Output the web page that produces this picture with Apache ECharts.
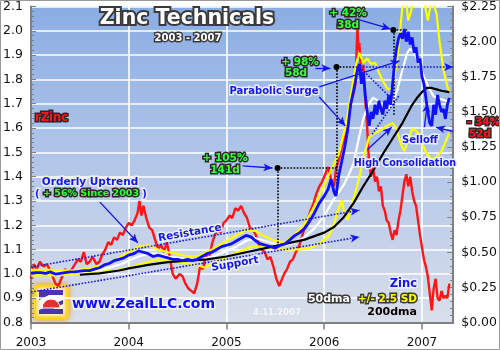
<!DOCTYPE html>
<html><head><meta charset="utf-8">
<script src="https://cdn.jsdelivr.net/npm/echarts@6/dist/echarts.min.js"></script>
<style>html,body{margin:0;padding:0;background:#fff}#c{width:500px;height:350px}</style>
</head><body><div id="c"></div>
<script>
// ---------- DATA ----------
const yearTicks = [2003, 2004, 2005, 2006, 2007];

// Zinc price, $/lb (right axis)
const zinc = [
[2003.00,0.350],[2003.05,0.355],[2003.10,0.355],[2003.15,0.350],[2003.20,0.360],[2003.25,0.345],
[2003.30,0.350],[2003.35,0.355],[2003.40,0.360],[2003.45,0.360],[2003.50,0.365],[2003.55,0.370],
[2003.60,0.370],[2003.65,0.380],[2003.70,0.390],[2003.75,0.410],[2003.80,0.420],[2003.85,0.440],
[2003.90,0.450],[2003.95,0.460],[2004.00,0.480],[2004.05,0.490],[2004.10,0.510],[2004.15,0.500],
[2004.20,0.490],[2004.25,0.470],[2004.30,0.480],[2004.35,0.470],[2004.40,0.460],[2004.45,0.450],
[2004.50,0.450],[2004.55,0.440],[2004.60,0.450],[2004.65,0.440],[2004.70,0.450],[2004.75,0.470],
[2004.80,0.490],[2004.85,0.500],[2004.90,0.520],[2004.95,0.540],[2005.00,0.550],[2005.05,0.560],
[2005.10,0.580],[2005.15,0.600],[2005.20,0.620],[2005.25,0.610],[2005.30,0.580],[2005.35,0.560],
[2005.40,0.550],[2005.45,0.540],[2005.50,0.530],[2005.55,0.550],[2005.60,0.560],[2005.65,0.590],
[2005.70,0.620],[2005.75,0.640],[2005.80,0.670],[2005.85,0.720],[2005.90,0.780],[2005.95,0.850],
[2006.00,0.900],[2006.04,0.950],[2006.07,1.020],[2006.10,0.930],[2006.12,0.900],[2006.15,1.050],
[2006.18,1.150],[2006.21,1.250],[2006.24,1.370],[2006.27,1.550],[2006.30,1.650],[2006.32,1.720],
[2006.34,1.800],[2006.36,1.840],[2006.38,1.700],[2006.40,1.780],[2006.42,1.620],[2006.44,1.500],
[2006.46,1.400],[2006.48,1.500],[2006.50,1.450],[2006.52,1.550],[2006.54,1.480],[2006.56,1.580],
[2006.58,1.520],[2006.60,1.480],[2006.62,1.580],[2006.64,1.520],[2006.66,1.620],[2006.68,1.550],
[2006.70,1.700],[2006.72,1.850],[2006.74,1.950],[2006.76,2.020],[2006.78,2.060],[2006.80,2.020],
[2006.82,2.090],[2006.84,2.000],[2006.86,2.070],[2006.88,1.980],[2006.90,2.030],[2006.92,1.920],
[2006.94,1.960],[2006.96,1.850],[2006.98,1.880],[2007.00,1.750],[2007.02,1.700],[2007.04,1.600],
[2007.06,1.500],[2007.08,1.420],[2007.10,1.400],[2007.12,1.550],[2007.14,1.480],[2007.16,1.620],
[2007.18,1.550],[2007.20,1.500],[2007.22,1.520],[2007.24,1.450],[2007.26,1.550],[2007.28,1.600]
];

// rZinc = zinc / 200dma (left axis)
const rZinc = [
[2003.00,0.98],[2003.03,1.04],[2003.06,1.02],[2003.09,1.05],[2003.13,1.03],[2003.16,1.04],
[2003.19,1.02],[2003.22,0.99],[2003.25,0.96],[2003.28,0.95],[2003.31,0.98],[2003.35,1.02],
[2003.38,1.00],[2003.42,1.02],[2003.45,1.04],[2003.48,1.06],[2003.51,1.05],[2003.54,1.09],
[2003.57,1.04],[2003.60,1.05],[2003.63,1.07],[2003.67,1.04],[2003.70,1.05],[2003.73,1.08],
[2003.76,1.10],[2003.79,1.13],[2003.82,1.12],[2003.85,1.15],[2003.88,1.14],[2003.91,1.17],
[2003.94,1.16],[2003.97,1.19],[2004.00,1.21],[2004.03,1.20],[2004.06,1.22],[2004.09,1.25],
[2004.11,1.30],[2004.13,1.24],[2004.15,1.28],[2004.18,1.23],[2004.21,1.19],[2004.24,1.18],
[2004.27,1.14],[2004.30,1.10],[2004.33,1.12],[2004.36,1.09],[2004.39,1.13],[2004.42,1.07],
[2004.45,1.00],[2004.48,0.98],[2004.52,1.00],[2004.55,0.99],[2004.58,0.96],[2004.61,0.94],
[2004.64,0.93],[2004.67,0.92],[2004.70,0.96],[2004.73,1.03],[2004.76,1.02],[2004.79,1.08],
[2004.82,1.06],[2004.85,1.12],[2004.88,1.16],[2004.91,1.18],[2004.94,1.17],[2004.97,1.21],
[2005.00,1.22],[2005.03,1.24],[2005.06,1.23],[2005.09,1.27],[2005.12,1.26],[2005.15,1.28],
[2005.18,1.25],[2005.21,1.23],[2005.24,1.19],[2005.27,1.18],[2005.30,1.16],[2005.33,1.12],
[2005.36,1.10],[2005.39,1.09],[2005.42,1.06],[2005.45,1.07],[2005.48,1.03],[2005.51,0.98],
[2005.54,0.95],[2005.56,0.97],[2005.59,1.00],[2005.62,1.02],[2005.65,1.05],[2005.68,1.06],
[2005.71,1.09],[2005.74,1.11],[2005.77,1.15],[2005.80,1.19],[2005.83,1.22],[2005.86,1.26],
[2005.89,1.29],[2005.92,1.33],[2005.95,1.36],[2005.98,1.38],[2006.01,1.41],[2006.04,1.44],
[2006.07,1.39],[2006.10,1.36],[2006.12,1.43],[2006.15,1.47],[2006.18,1.52],[2006.21,1.56],
[2006.24,1.60],[2006.27,1.70],[2006.30,1.74],[2006.32,1.78],[2006.34,2.02],[2006.35,1.92],
[2006.36,1.95],[2006.38,1.80],[2006.40,1.86],[2006.42,1.72],[2006.44,1.60],[2006.46,1.45],
[2006.48,1.40],[2006.50,1.44],[2006.52,1.38],[2006.54,1.40],[2006.56,1.34],[2006.58,1.36],
[2006.60,1.28],[2006.62,1.26],[2006.64,1.22],[2006.66,1.21],[2006.68,1.17],[2006.70,1.14],
[2006.72,1.18],[2006.74,1.16],[2006.76,1.22],[2006.78,1.26],[2006.80,1.32],[2006.82,1.38],
[2006.84,1.41],[2006.86,1.36],[2006.88,1.40],[2006.90,1.34],[2006.92,1.30],[2006.94,1.28],
[2006.96,1.22],[2006.98,1.16],[2007.00,1.11],[2007.02,1.06],[2007.04,1.03],[2007.06,0.99],
[2007.08,0.92],[2007.10,0.85],[2007.12,0.94],[2007.14,0.98],[2007.16,0.90],[2007.18,0.89],
[2007.20,0.93],[2007.22,0.90],[2007.24,0.91],[2007.26,0.90],[2007.28,0.96]
];

// 50-day moving average ($)
const dma50 = [
[2003.00,0.355],[2003.20,0.355],[2003.40,0.355],[2003.60,0.365],[2003.75,0.380],[2003.90,0.410],
[2004.00,0.440],[2004.10,0.470],[2004.20,0.490],[2004.30,0.490],[2004.40,0.470],[2004.50,0.460],
[2004.60,0.450],[2004.70,0.445],[2004.80,0.460],[2004.90,0.480],[2005.00,0.510],[2005.10,0.540],
[2005.20,0.580],[2005.30,0.600],[2005.40,0.580],[2005.50,0.560],[2005.60,0.550],[2005.70,0.570],
[2005.80,0.610],[2005.90,0.670],[2006.00,0.760],[2006.10,0.880],[2006.20,0.980],[2006.25,1.050],
[2006.30,1.130],[2006.35,1.300],[2006.40,1.450],[2006.45,1.550],[2006.50,1.600],[2006.55,1.580],
[2006.60,1.550],[2006.65,1.520],[2006.70,1.560],[2006.75,1.660],[2006.80,1.800],[2006.85,1.920],
[2006.88,1.950],[2006.92,1.920],[2006.97,1.850],[2007.02,1.750],[2007.07,1.670],[2007.12,1.610],
[2007.20,1.590],[2007.28,1.570]
];

// 50dma +2.5 SD band ($)
const bandUpper = [
[2003.00,0.375],[2003.20,0.375],[2003.40,0.370],[2003.55,0.380],[2003.70,0.400],[2003.80,0.420],
[2003.90,0.460],[2004.00,0.500],[2004.10,0.540],[2004.20,0.550],[2004.30,0.520],[2004.40,0.500],
[2004.50,0.490],[2004.60,0.470],[2004.70,0.470],[2004.80,0.500],[2004.90,0.540],[2005.00,0.580],
[2005.10,0.620],[2005.20,0.660],[2005.30,0.650],[2005.40,0.610],[2005.50,0.580],[2005.60,0.570],
[2005.70,0.630],[2005.80,0.700],[2005.90,0.830],[2006.00,0.980],[2006.08,1.100],[2006.15,1.200],
[2006.22,1.400],[2006.28,1.650],[2006.33,1.850],[2006.36,1.920],[2006.40,1.850],[2006.44,1.880],
[2006.48,1.840],[2006.52,1.850],[2006.56,1.780],[2006.60,1.720],[2006.65,1.660],[2006.70,1.670],
[2006.73,1.800],[2006.76,1.950],[2006.80,2.250],[2006.83,2.350],[2006.86,2.150],[2006.89,2.220],
[2006.92,2.350],[2006.97,2.400],[2007.02,2.300],[2007.06,2.150],[2007.10,2.300],[2007.15,2.200],
[2007.18,2.000],[2007.22,1.800],[2007.26,1.680],[2007.28,1.640]
];

// 50dma -2.5 SD band ($)
const bandLower = [
[2003.00,0.335],[2003.20,0.335],[2003.40,0.340],[2003.55,0.350],[2003.70,0.360],[2003.85,0.370],
[2004.00,0.390],[2004.10,0.410],[2004.20,0.430],[2004.30,0.450],[2004.40,0.440],[2004.50,0.430],
[2004.60,0.420],[2004.70,0.410],[2004.78,0.390],[2004.85,0.420],[2004.95,0.450],[2005.05,0.480],
[2005.15,0.510],[2005.25,0.540],[2005.35,0.540],[2005.45,0.530],[2005.55,0.520],[2005.65,0.520],
[2005.75,0.520],[2005.85,0.530],[2005.95,0.560],[2006.05,0.620],[2006.10,0.700],[2006.14,0.800],
[2006.18,0.870],[2006.21,0.760],[2006.24,0.730],[2006.27,0.800],[2006.30,0.880],[2006.34,0.980],
[2006.38,1.100],[2006.42,1.220],[2006.46,1.320],[2006.52,1.350],[2006.58,1.370],[2006.64,1.400],
[2006.70,1.420],[2006.74,1.380],[2006.78,1.280],[2006.82,1.220],[2006.86,1.300],[2006.90,1.380],
[2006.95,1.360],[2007.00,1.280],[2007.05,1.200],[2007.10,1.160],[2007.15,1.180],[2007.20,1.220],
[2007.25,1.300],[2007.28,1.350]
];

// 200-day moving average ($)
const dma200 = [
[2003.50,0.340],[2003.70,0.350],[2003.90,0.370],[2004.00,0.385],[2004.20,0.410],[2004.40,0.430],
[2004.60,0.440],[2004.80,0.450],[2005.00,0.470],[2005.20,0.500],[2005.40,0.530],[2005.60,0.560],
[2005.80,0.590],[2006.00,0.640],[2006.10,0.680],[2006.20,0.750],[2006.30,0.850],[2006.40,0.970],
[2006.50,1.080],[2006.60,1.200],[2006.70,1.310],[2006.80,1.420],[2006.90,1.550],[2006.95,1.600],
[2007.00,1.640],[2007.05,1.670],[2007.10,1.670],[2007.15,1.660],[2007.20,1.650],[2007.28,1.640]
];

// ---------- ANNOTATIONS (data coordinates: year, $) ----------
const dotted = {type:'dotted', color:'#1515ee', width:1.6};
const blackDot = {type:'dotted', color:'#000', width:1.6};
const arrowStyle = {type:'solid', color:'#1515ee', width:1.3};
function seg(a, b, style, arrow) {
  return [{coord:a, symbol:'none', lineStyle:style},
          {coord:b, symbol: arrow ? 'arrow' : 'none', symbolSize: arrow ? [6,9] : 0, lineStyle:style}];
}
const annoLines = [
  seg([2003.0,0.395],[2006.36,0.80], dotted, true),     // resistance
  seg([2003.0,0.217],[2006.36,0.609], dotted, true),    // support
  seg([2006.33,1.82],[2007.32,1.82], dotted, true),     // breakout level
  seg([2006.36,1.82],[2006.68,1.60], dotted, false),
  seg([2006.49,1.34],[2006.77,1.62], dotted, false),
  seg([2005.523,1.10],[2005.523,0.536], blackDot, false),
  seg([2005.523,1.10],[2006.13,1.10], blackDot, false),
  seg([2006.126,1.82],[2006.126,0.92], blackDot, false),
  seg([2006.126,1.82],[2006.33,1.82], blackDot, false),
  seg([2006.708,2.083],[2006.708,1.47], blackDot, false),
  seg([2006.708,2.083],[2006.85,2.083], blackDot, false),
  seg([2005.165,1.115],[2005.47,1.10], arrowStyle, true),
  seg([2005.91,1.81],[2006.064,1.81], arrowStyle, true),
  seg([2006.36,2.155],[2006.677,2.09], arrowStyle, true),
  seg([2003.705,0.857],[2004.093,0.568], arrowStyle, true),
  seg([2005.95,1.677],[2006.77,1.862], arrowStyle, true),
  seg([2005.95,1.606],[2006.217,1.40], arrowStyle, true),
  seg([2006.44,1.23],[2006.69,1.39], arrowStyle, true),
  seg([2007.025,1.39],[2007.055,1.56], arrowStyle, true),
  seg([2007.32,1.36],[2007.145,1.39], arrowStyle, true)
];
const annoDots = [[2005.523,1.10],[2006.126,1.82],[2006.708,2.083]];

// ---------- CHART ----------
const chart = echarts.init(document.getElementById('c'), null, {renderer:'canvas'});
const F = '"DejaVu Sans", Verdana, sans-serif';
function txt(x, y, text, font, fill, stroke, lw, align, extra) {
  return Object.assign({type:'text', x:x, y:y, z:100, silent:true,
    style:{text:text, font:font, fill:fill, stroke:stroke, lineWidth:lw,
      textAlign:align||'center', textVerticalAlign:'middle'}}, extra||{});
}
const blueTxt = (x,y,t,size,extra)=>txt(x,y,t,'bold '+size+'px '+F,'#1515ee','rgba(236,240,248,0.95)',3,'center',extra);
const greenTxt = (x,y,t)=>txt(x,y,t,'bold 10.5px '+F,'#33ff33','#2a2a2a',3,'center');

const option = {
  animation:false,
  backgroundColor:'#ffffff',
  grid:{left:31, right:46, top:6.5, bottom:27.5, show:true, borderWidth:0,
    backgroundColor:{type:'linear',x:0,y:0,x2:0,y2:1,
      colorStops:[{offset:0,color:'#8aade3'},{offset:0.5,color:'#b3c6e9'},{offset:1,color:'#d9dfea'}]}},
  xAxis:{type:'value', min:2003, max:2007.32, interval:0.25,
    axisLine:{show:true, onZero:false, lineStyle:{color:'#808080', width:2}},
    axisTick:{show:true, length:7, customValues:yearTicks, lineStyle:{color:'#808080', width:1.5}},
    axisLabel:{customValues:yearTicks, margin:14, fontSize:12, fontFamily:F, color:'#111',
      formatter:v=>String(Math.round(v))},
    splitLine:{show:true, lineStyle:{color:'#ffffff', width:1.6}}},
  yAxis:[
    {type:'value', min:0.8, max:2.1, interval:0.1, position:'left',
      axisLine:{show:true, lineStyle:{color:'#808080', width:2}},
      axisTick:{show:true, inside:true, length:5, lineStyle:{color:'#808080'}},
      minorTick:{show:true, splitNumber:5, length:3, lineStyle:{color:'#808080'}},
      axisLabel:{margin:8, fontSize:12.5, fontFamily:F, color:'#111', formatter:v=>v.toFixed(1)},
      splitLine:{show:true, lineStyle:{color:'#ffffff', width:1.6}}},
    {type:'value', min:0, max:2.25, interval:0.25, position:'right',
      axisLine:{show:true, lineStyle:{color:'#808080', width:2}},
      axisTick:{show:true, inside:true, length:6, lineStyle:{color:'#808080'}},
      minorTick:{show:true, splitNumber:5, length:3, lineStyle:{color:'#808080'}},
      axisLabel:{margin:8, fontSize:12.5, fontFamily:F, color:'#111', formatter:v=>'$'+v.toFixed(2)},
      splitLine:{show:false}}
  ],
  series:[
    {name:'rZinc', type:'line', yAxisIndex:0, data:rZinc, showSymbol:false, symbol:'none',
      lineStyle:{color:'#ff1515', width:2.4}, z:2},
    {name:'upper', type:'line', yAxisIndex:1, data:bandUpper, showSymbol:false, symbol:'none',
      lineStyle:{color:'#ffff00', width:2.2}, z:3},
    {name:'lower', type:'line', yAxisIndex:1, data:bandLower, showSymbol:false, symbol:'none',
      lineStyle:{color:'#ffff00', width:2.2}, z:3},
    {name:'50dma', type:'line', yAxisIndex:1, data:dma50, showSymbol:false, symbol:'none',
      lineStyle:{color:'#ffffff', width:2.2}, z:4},
    {name:'200dma', type:'line', yAxisIndex:1, data:dma200, showSymbol:false, symbol:'none',
      lineStyle:{color:'#000000', width:2.2}, z:4},
    {name:'Zinc', type:'line', yAxisIndex:1, data:zinc, showSymbol:false, symbol:'none',
      lineStyle:{color:'#1010ff', width:2.8}, z:5,
      markLine:{silent:true, animation:false, label:{show:false}, symbol:['none','none'],
        data:annoLines},
      markPoint:{silent:true, animation:false, symbol:'circle', symbolSize:6, label:{show:false},
        itemStyle:{color:'#000'}, data:annoDots.map(c=>({coord:c}))}}
  ],
  graphic:[
    {type:'rect', z:200, silent:true, shape:{x:0.5,y:0.5,width:499,height:349},
      style:{fill:null, stroke:'#9a9a9a', lineWidth:1}},
    {type:'text', x:187, y:19, z:100, silent:true,
      style:{text:'Zinc Technicals', font:'bold 20.5px '+F, fill:'#fff', stroke:'#3a3a3a', lineWidth:4,
        textAlign:'center', textVerticalAlign:'middle', shadowColor:'rgba(0,0,0,0.5)', shadowBlur:3, shadowOffsetX:1, shadowOffsetY:1}},
    txt(188,38,'2003 - 2007','bold 10px '+F,'#ffffff','#3a3a3a',3,'center'),
    txt(35,118,'rZinc','bold 11.5px '+F,'#ff1515','#2a2a2a',3,'left'),
    blueTxt(90,182,'Orderly Uptrend',10.5),
    {type:'text', x:91, y:194, z:100, silent:true, style:{
      text:'{b|(} {g|+ 56% Since 2003} {b|)}', textAlign:'center', textVerticalAlign:'middle',
      rich:{b:{font:'bold 10px '+F, fill:'#1515ee', stroke:'rgba(236,240,248,0.95)', lineWidth:3},
            g:{font:'bold 9.5px '+F, fill:'#33ff33', stroke:'#2a2a2a', lineWidth:3}}}},
    blueTxt(190,233,'Resistance',10.5,{rotation:0.17}),
    blueTxt(235,264,'Support',10.5,{rotation:0.17}),
    blueTxt(274,91,'Parabolic Surge',10),
    blueTxt(405,163,'High Consolidation',9.6),
    blueTxt(420,140,'Selloff',10),
    greenTxt(348,13,'+ 42%'), greenTxt(348,25,'38d'),
    greenTxt(300,62,'+ 98%'), greenTxt(296,73,'58d'),
    greenTxt(225,158,'+ 105%'), greenTxt(225,170,'141d'),
    txt(467,122,'- 34%','bold 10.5px '+F,'#ff1515','#2a2a2a',3,'left'),
    txt(469,134,'52d','bold 10.5px '+F,'#ff1515','#2a2a2a',3,'left'),
    txt(417,284,'Zinc','bold 11.5px '+F,'#1515ee','rgba(236,240,248,0.95)',3,'right'),
    txt(350,299,'50dma','bold 11px '+F,'#ffffff','#3a3a3a',3,'right'),
    txt(417,299,'+/- 2.5 SD','bold 10.5px '+F,'#ffff00','#3a3a3a',3,'right'),
    txt(417,312,'200dma','bold 11px '+F,'#000000','#d8dce6',3,'right'),
    txt(253,313,'4.11.2007','bold 8.5px '+F,'rgba(255,255,255,0.7)',null,0,'left'),
    txt(72,304,'www.ZealLLC.com','bold 14px '+F,'#1010ee','rgba(240,243,250,0.95)',3,'left'),
    {type:'group', x:35, y:286, z:100, silent:true, children:[
      {type:'rect', shape:{x:0,y:0,width:32,height:32,r:3},
        style:{fill:'#ffffff', stroke:'#f8d820', lineWidth:3, shadowColor:'#ff9a00', shadowBlur:6}},
      {type:'polygon', shape:{points:[[4,4],[28,4],[28,9],[14,9],[4,14]]}, style:{fill:'#4a35b0'}},
      {type:'polygon', shape:{points:[[4,28],[28,28],[28,23],[18,23],[28,18],[28,14],[4,24]]}, style:{fill:'#4a35b0'}},
      {type:'sector', shape:{cx:16,cy:22,r0:0,r:9,startAngle:Math.PI,endAngle:2*Math.PI}, style:{fill:'#e63030', stroke:'#fff', lineWidth:1}}
    ]}
  ]
};
chart.setOption(option);
</script></body></html>
